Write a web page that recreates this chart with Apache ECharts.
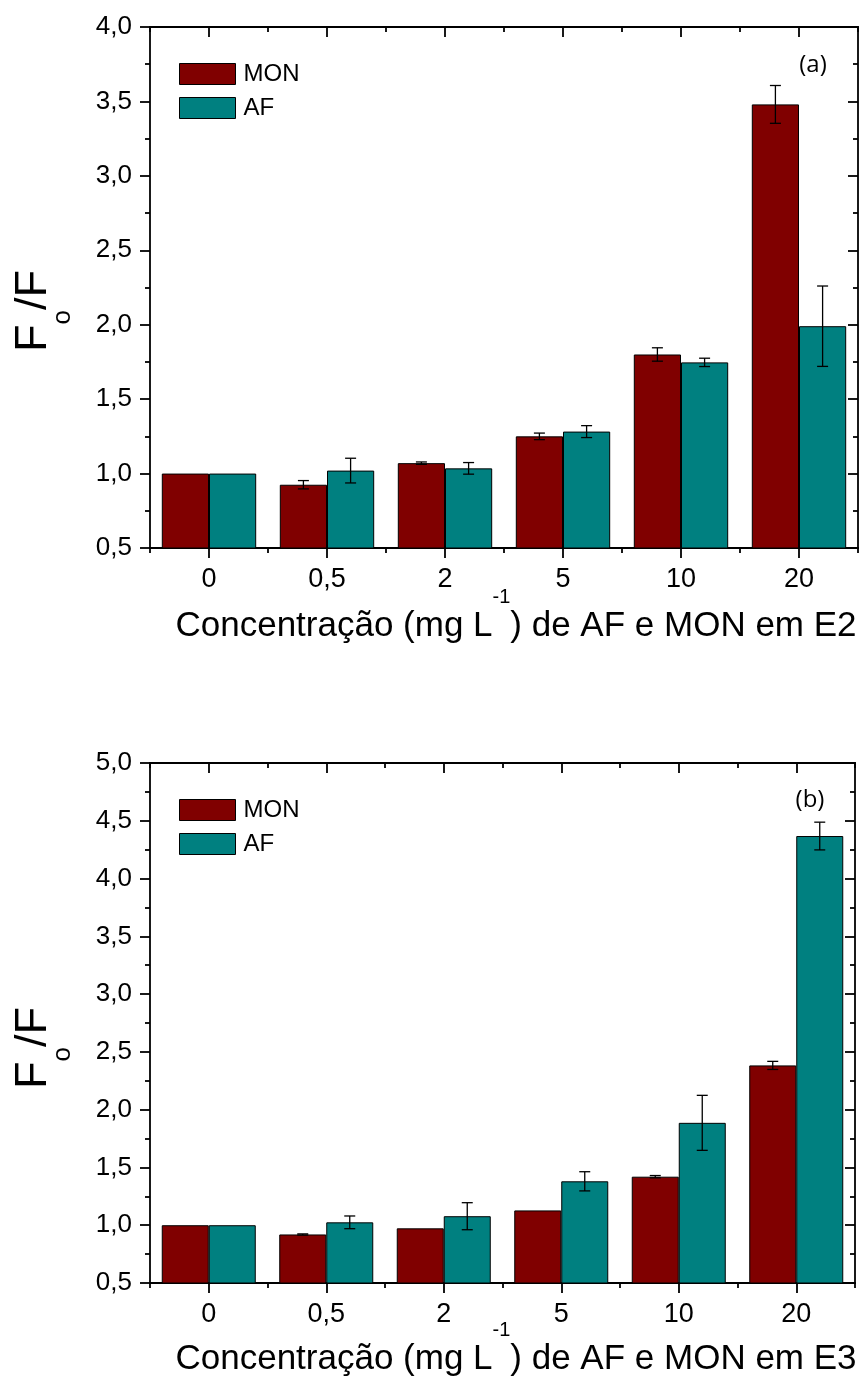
<!DOCTYPE html>
<html>
<head>
<meta charset="utf-8">
<script src="https://cdn.jsdelivr.net/npm/echarts@6/dist/echarts.min.js"></script>
<style>
  html, body { margin: 0; padding: 0; background: #fff; }
  #chart { width: 863px; height: 1379px; }
</style>
</head>
<body>
<div id="chart"></div>
<script>
// Concentration levels (mg L-1)
const categories = ['0', '0,5', '2', '5', '10', '20'];

// Panel (a): E2
const monE2 = [1.00, 0.925, 1.07, 1.25, 1.80, 3.48];
const monE2Err = [0, 0.028, 0.008, 0.022, 0.045, 0.127];
const afE2 = [1.00, 1.02, 1.035, 1.282, 1.747, 1.99];
const afE2Err = [0, 0.083, 0.039, 0.04, 0.028, 0.27];

// Panel (b): E3
const monE3 = [1.00, 0.92, 0.973, 1.128, 1.42, 2.383];
const monE3Err = [0, 0.005, 0, 0, 0.01, 0.035];
const afE3 = [1.00, 1.025, 1.078, 1.38, 1.886, 4.368];
const afE3Err = [0, 0.055, 0.117, 0.083, 0.238, 0.12];

const MON_COLOR = '#800000';
const AF_COLOR = '#008080';
const FONT = '"Liberation Sans", Arial, sans-serif';
const AXIS_W = 1.8;

const fmtComma = v => v.toFixed(1).replace('.', ',');

function xAxes(gridIndex) {
  const axisLine = { show: true, lineStyle: { color: '#000', width: AXIS_W } };
  const tickStyle = { color: '#000', width: AXIS_W };
  return [
    { // bottom, labels + centre ticks
      type: 'category', gridIndex, position: 'bottom', data: categories, boundaryGap: true,
      axisLine, axisTick: { show: true, alignWithLabel: true, length: 10, lineStyle: tickStyle },
      axisLabel: { show: true, margin: 18, color: '#000', fontSize: 27, fontFamily: FONT },
      splitLine: { show: false }
    },
    { // bottom, boundary ticks
      type: 'category', gridIndex, position: 'bottom', data: categories, boundaryGap: true,
      axisLine, axisTick: { show: true, alignWithLabel: false, length: 5, lineStyle: tickStyle },
      axisLabel: { show: false }, splitLine: { show: false }
    },
    { // top, centre ticks pointing in
      type: 'category', gridIndex, position: 'top', data: categories, boundaryGap: true,
      axisLine, axisTick: { show: true, inside: true, alignWithLabel: true, length: 10, lineStyle: tickStyle },
      axisLabel: { show: false }, splitLine: { show: false }
    },
    { // top, boundary ticks pointing in
      type: 'category', gridIndex, position: 'top', data: categories, boundaryGap: true,
      axisLine, axisTick: { show: true, inside: true, alignWithLabel: false, length: 5, lineStyle: tickStyle },
      axisLabel: { show: false }, splitLine: { show: false }
    }
  ];
}

function yAxes(gridIndex, max) {
  const axisLine = { show: true, lineStyle: { color: '#000', width: AXIS_W } };
  const tickStyle = { color: '#000', width: AXIS_W };
  const common = { type: 'value', gridIndex, min: 0.5, max, interval: 0.5, splitLine: { show: false } };
  return [
    Object.assign({}, common, {
      position: 'left', axisLine,
      axisTick: { show: true, length: 10, lineStyle: tickStyle },
      minorTick: { show: true, splitNumber: 2, length: 5, lineStyle: tickStyle },
      minorSplitLine: { show: false },
      axisLabel: { show: true, margin: 18, color: '#000', fontSize: 26, fontFamily: FONT, formatter: fmtComma }
    }),
    Object.assign({}, common, {
      position: 'right', axisLine,
      axisTick: { show: true, inside: true, length: 10, lineStyle: tickStyle },
      minorTick: { show: true, splitNumber: 2, length: 5, lineStyle: tickStyle },
      minorSplitLine: { show: false },
      axisLabel: { show: false }
    })
  ];
}

// Error bar drawn over a bar; side = -1 for the left bar of a pair, +1 for the right one
function errorBar(side) {
  return function (params, api) {
    const idx = api.value(0);
    const v = api.value(1);
    const e = api.value(2);
    if (!e) return null;
    const band = api.size([1, 0])[0];
    const x = api.coord([idx, v])[0] + side * band * 0.2;
    const yTop = api.coord([idx, v + e])[1];
    const yBot = api.coord([idx, v - e])[1];
    const cap = 5.5;
    const st = { stroke: '#000', lineWidth: 1.3 };
    return {
      type: 'group',
      children: [
        { type: 'line', shape: { x1: x, y1: yTop, x2: x, y2: yBot }, style: st },
        { type: 'line', shape: { x1: x - cap, y1: yTop, x2: x + cap, y2: yTop }, style: st },
        { type: 'line', shape: { x1: x - cap, y1: yBot, x2: x + cap, y2: yBot }, style: st }
      ]
    };
  };
}

function panelSeries(xi, yi, mon, monErr, af, afErr) {
  const barStyle = c => ({ color: c, borderColor: '#000', borderWidth: 1 });
  return [
    { name: 'MON', type: 'bar', xAxisIndex: xi, yAxisIndex: yi, data: mon, barWidth: '40%', barGap: '0%', itemStyle: barStyle(MON_COLOR) },
    { name: 'AF', type: 'bar', xAxisIndex: xi, yAxisIndex: yi, data: af, barWidth: '40%', barGap: '0%', itemStyle: barStyle(AF_COLOR) },
    { type: 'custom', xAxisIndex: xi, yAxisIndex: yi, z: 5, renderItem: errorBar(-1),
      encode: { x: 0, y: 1 }, data: mon.map((v, i) => [i, v, monErr[i]]) },
    { type: 'custom', xAxisIndex: xi, yAxisIndex: yi, z: 5, renderItem: errorBar(1),
      encode: { x: 0, y: 1 }, data: af.map((v, i) => [i, v, afErr[i]]) }
  ];
}

function legend(top) {
  return {
    orient: 'vertical', left: 179, top, padding: 0, itemWidth: 56, itemHeight: 21, itemGap: 10,
    data: ['MON', 'AF'], selectedMode: false, icon: 'rect',
    itemStyle: { borderColor: '#000', borderWidth: 1 },
    textStyle: { color: '#000', fontSize: 24, fontFamily: FONT, padding: [0, 0, 0, 3] }
  };
}

function xTitle(y, tag) {
  return {
    type: 'text', x: 516, y,
    style: {
      text: '{a|Concentração (mg L}{s|-1}{a|) de AF e MON em ' + tag + '}',
      align: 'center', verticalAlign: 'middle', fill: '#000',
      rich: {
        a: { fontSize: 35, lineHeight: 78, fontFamily: FONT, fill: '#000' },
        s: { fontSize: 20, lineHeight: 20, verticalAlign: 'top', fontFamily: FONT, fill: '#000' }
      }
    }
  };
}

function yTitle(y) {
  return {
    type: 'text', x: 34, y, rotation: Math.PI / 2,
    style: {
      text: '{f|F}{o|o}{f|/F}',
      align: 'center', verticalAlign: 'middle', fill: '#000',
      rich: {
        f: { fontSize: 45, lineHeight: 84, fontFamily: FONT, fill: '#000' },
        o: { fontSize: 26, lineHeight: 26, verticalAlign: 'bottom', fontFamily: FONT, fill: '#000' }
      }
    }
  };
}

function panelTag(x, y, text) {
  return {
    type: 'text', x, y,
    style: { text, align: 'center', verticalAlign: 'middle', fill: '#000', fontSize: 24, fontFamily: '"Open Sans", "Noto Sans", sans-serif' }
  };
}

const option = {
  animation: false,
  backgroundColor: '#fff',
  grid: [
    { left: 150, top: 27, width: 708, height: 521, containLabel: false },
    { left: 150, top: 763, width: 705, height: 520, containLabel: false }
  ],
  xAxis: [].concat(xAxes(0), xAxes(1)),
  yAxis: [].concat(yAxes(0, 4.0), yAxes(1, 5.0)),
  legend: [legend(62), legend(798)],
  series: [].concat(
    panelSeries(0, 0, monE2, monE2Err, afE2, afE2Err),
    panelSeries(4, 2, monE3, monE3Err, afE3, afE3Err)
  ),
  graphic: [
    xTitle(626, 'E2'),
    xTitle(1359, 'E3'),
    yTitle(311),
    yTitle(1048),
    panelTag(813, 65, '(a)'),
    panelTag(810, 800, '(b)')
  ]
};

const chart = echarts.init(document.getElementById('chart'), null, { renderer: 'canvas' });
chart.setOption(option);
</script>
</body>
</html>
